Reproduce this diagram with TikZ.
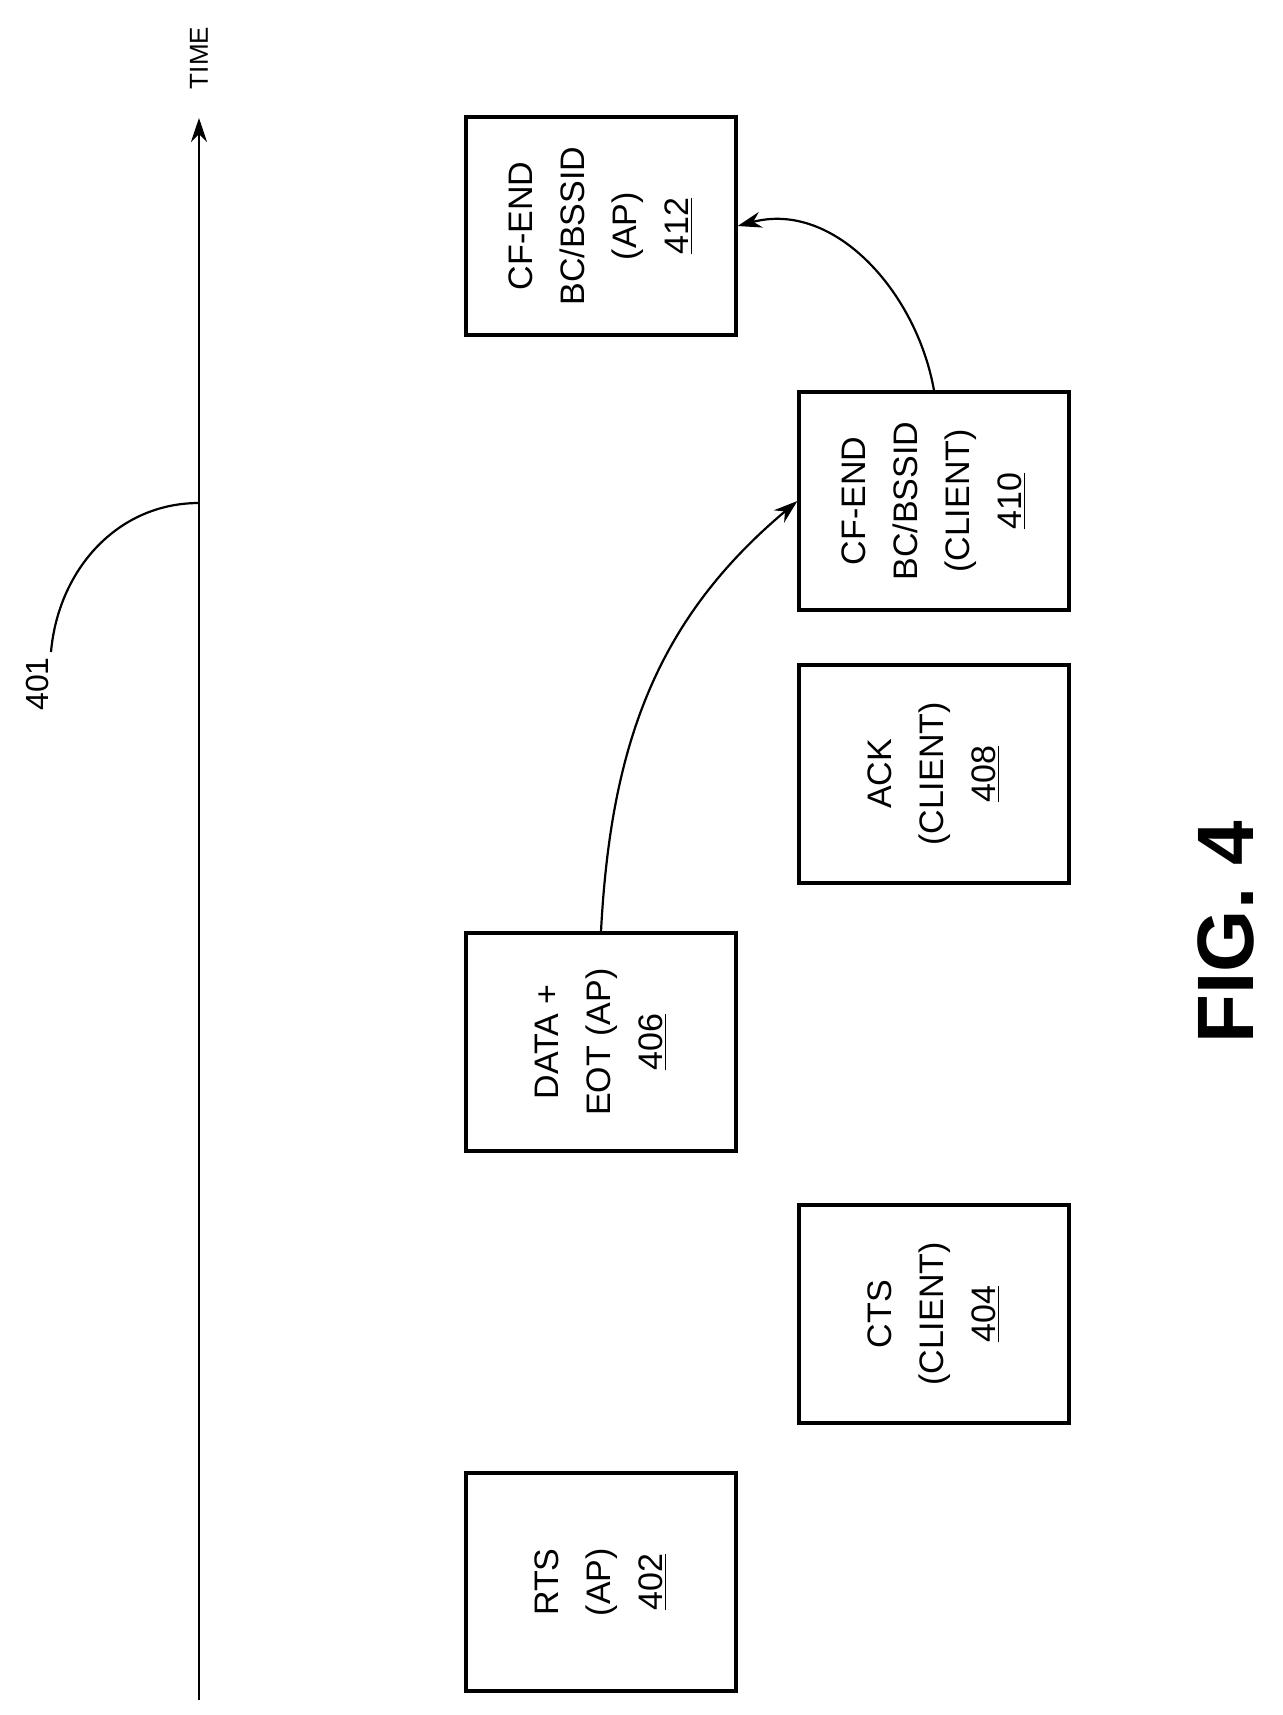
\documentclass[tikz,border=0pt]{standalone}
\usepackage{fontspec}
\setmainfont{Liberation Sans}
\usetikzlibrary{arrows.meta}
\begin{document}
\begin{tikzpicture}[x=0.5pt,y=-0.5pt,
  box/.style={draw,line width=1.6pt,minimum width=135pt,minimum height=109pt,inner sep=0pt},
  txt/.style={rotate=90,align=center,font=\fontsize{17}{26}\selectfont},
  arr/.style={line width=1.1pt,-{Stealth[length=12pt,width=8pt]}}]
\useasboundingbox (0,0) rectangle (1282,1715);
% axis
\coordinate (t0) at (199,1700);
\coordinate (t1) at (199,118);
\draw[arr] (t0) -- (t1);
\node[rotate=90,font=\fontsize{13}{15}\selectfont] (time) at (199,58) {TIME};
\coordinate (ax) at (199,503);
\node[rotate=90,font=\fontsize{16}{18}\selectfont] (l401) at (37,684) {401};
\draw[line width=1.1pt] (51,652) to[out=85,in=180] (ax);
% boxes
\node[box] (b412) at (601,226) {};
\node[txt] at (b412) {CF-END\\BC/BSSID\\(AP)\\\underline{412}};
\node[box] (b410) at (934,501) {};
\node[txt] at (b410) {CF-END\\BC/BSSID\\(CLIENT)\\\underline{410}};
\node[box] (b408) at (934,774) {};
\node[txt] at (b408) {ACK\\(CLIENT)\\\underline{408}};
\node[box] (b406) at (601,1042) {};
\node[txt] at (b406) {DATA +\\EOT (AP)\\\underline{406}};
\node[box] (b404) at (934,1314) {};
\node[txt] at (b404) {CTS\\(CLIENT)\\\underline{404}};
\node[box] (b402) at (601,1582) {};
\node[txt] at (b402) {RTS\\(AP)\\\underline{402}};
% arrows
\draw[arr] (b406.north) to[out=87,in=-140] (b410.west);
\draw[arr] (b410.north) to[out=100,in=15] (b412.east);
% figure label
\node[rotate=90,font=\fontsize{40}{44}\selectfont\bfseries] (fig) at (1226,932) {FIG. 4};
\end{tikzpicture}
\end{document}
